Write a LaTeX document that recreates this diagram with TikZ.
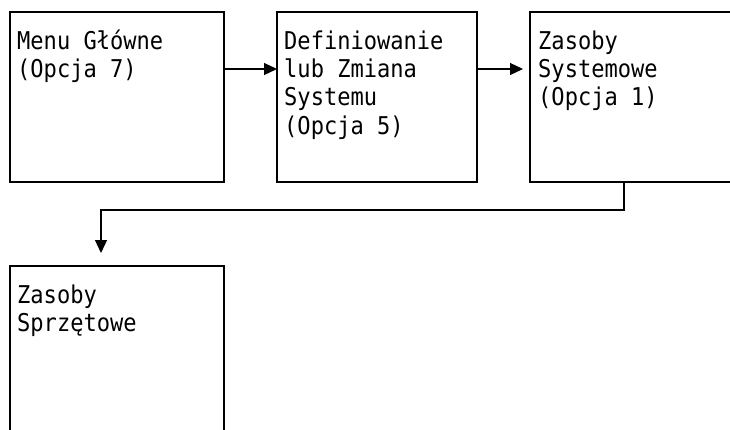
\documentclass[tikz,border=0pt]{standalone}
\usepackage{fontspec}
\setmonofont[FakeStretch=0.9]{DejaVu Sans Mono}
\usetikzlibrary{arrows.meta}
\begin{document}
\begin{tikzpicture}[x=1pt,y=-1pt,
  box/.style={draw, line width=1.2pt, inner sep=0pt, outer sep=0pt, anchor=north west},
  boxtext/.style={anchor=north west, inner sep=0pt, align=left,
    font=\ttfamily\fontsize{24.5}{28.3}\selectfont},
  flow/.style={line width=1.2pt, -{Triangle[length=13pt,width=12pt]}}]
\useasboundingbox (0,0) rectangle (730,429);
\clip (0,0) rectangle (730,429);

% boxes
\node[box, minimum width=214pt, minimum height=170pt] (menu) at (10,12) {};
\node[box, minimum width=200pt, minimum height=170pt] (define) at (277,12) {};
\node[box, minimum width=214pt, minimum height=170pt] (sysres) at (530,12) {};
\node[box, minimum width=214pt, minimum height=170pt] (hwres) at (10,266) {};

% box texts (first baseline 37pt below the box top)
\node[boxtext] (menutext) at ([shift={(7,15)}]menu.north west)
  {\rule{0pt}{22pt}Menu Główne\\(Opcja 7)};
\node[boxtext] (definetext) at ([shift={(7,15)}]define.north west)
  {\rule{0pt}{22pt}Definiowanie\\lub Zmiana\\Systemu\\(Opcja 5)};
\node[boxtext] (sysrestext) at ([shift={(8,15)}]sysres.north west)
  {\rule{0pt}{22pt}Zasoby\\Systemowe\\(Opcja 1)};
\node[boxtext] (hwrestext) at ([shift={(7,15)}]hwres.north west)
  {\rule{0pt}{22pt}Zasoby\\Sprzętowe};

% connectors
\draw[flow] ([shift={(0,57)}]menu.north east) -- ([shift={(0,57)}]define.north west);
\draw[flow] ([shift={(0,57)}]define.north east) -- ([shift={(-7,57)}]sysres.north west);
\draw[flow] ([xshift=94pt]sysres.south west) -- ++(0,28)
  -| ([shift={(91,-13)}]hwres.north west);
\end{tikzpicture}
\end{document}
